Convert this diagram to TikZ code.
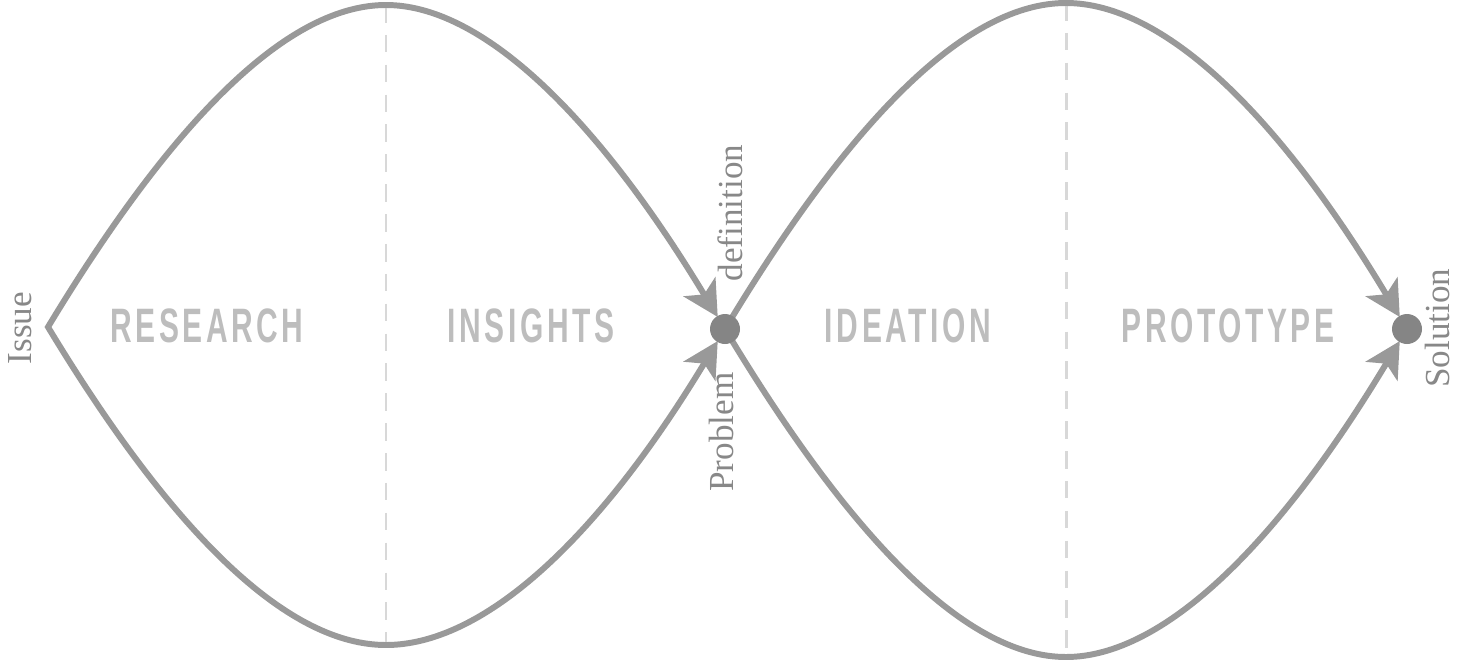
\documentclass[tikz,border=0pt]{standalone}
\usepackage{fontspec}
\usepackage{graphicx}
\usetikzlibrary{arrows.meta}
\setmainfont{Liberation Serif}
\newfontfamily\phasefont[LetterSpace=12]{Liberation Sans}
\definecolor{curvegray}{HTML}{999999}
\definecolor{dotgray}{HTML}{858585}
\definecolor{phasegray}{HTML}{BDBDBD}
\definecolor{textgray}{HTML}{888888}
\definecolor{dashgray}{HTML}{D8D8D8}
\newcommand{\phase}[1]{\scalebox{0.62}[1]{\phasefont\bfseries #1}}

\begin{document}
\begin{tikzpicture}[x=0.02cm,y=-0.02cm,
  flow/.style={draw=curvegray,line width=3.4pt,
    {Stealth[length=20pt,width=21pt,inset=5pt]}-{Stealth[length=20pt,width=21pt,inset=5pt]},
    shorten <=8pt,shorten >=8pt},
  divider/.style={draw=dashgray,line width=1.7pt,dash pattern=on 10pt off 7pt},
  phasename/.style={text=phasegray,inner sep=0pt,font=\fontsize{27.5}{30}\selectfont},
  endpoint/.style={circle,fill=dotgray,inner sep=0pt,minimum size=0.6cm},
  sidetext/.style={text=textgray,inner sep=0pt,rotate=90,font=\fontsize{20}{24}\selectfont}]
\useasboundingbox (0,0) rectangle (1465,660);

% diamond corners
\coordinate (issue) at (48,327);
\coordinate (pd) at (725,329);
\coordinate (sol) at (1407,329);
\coordinate (top1) at (386,5);
\coordinate (bot1) at (386,645);
\coordinate (top2) at (1066,3);
\coordinate (bot2) at (1066,657);

\draw[divider] (top1) -- (bot1);
\draw[divider] (top2) -- (bot2);

% diverge / converge
\draw[flow] (pd) .. controls +(-130,-215) and +(95,0) .. (top1)
  .. controls +(-95,0) and +(130,-215) .. (issue)
  .. controls +(130,215) and +(-95,0) .. (bot1)
  .. controls +(95,0) and +(-130,215) .. (pd);
\draw[flow] (sol) .. controls +(-131,-218) and +(96,0) .. (top2)
  .. controls +(-96,0) and +(131,-218) .. (pd)
  .. controls +(131,218) and +(-96,0) .. (bot2)
  .. controls +(96,0) and +(-131,218) .. (sol);

\node[endpoint] (pddot) at (pd) {};
\node[endpoint] (soldot) at (sol) {};

\node[phasename] (research) at (207,326) {\phase{RESEARCH}};
\node[phasename] (insights) at (531,326) {\phase{INSIGHTS}};
\node[phasename] (ideation) at (908,326) {\phase{IDEATION}};
\node[phasename] (prototype) at (1228,326) {\phase{PROTOTYPE}};

\node[sidetext] (issuetext) at (20,328) {Issue};
\node[sidetext] (problem) at (721,432) {Problem};
\node[sidetext] (definition) at (730,213) {definition};
\node[sidetext] (solution) at (1437,328) {Solution};
\end{tikzpicture}
\end{document}
